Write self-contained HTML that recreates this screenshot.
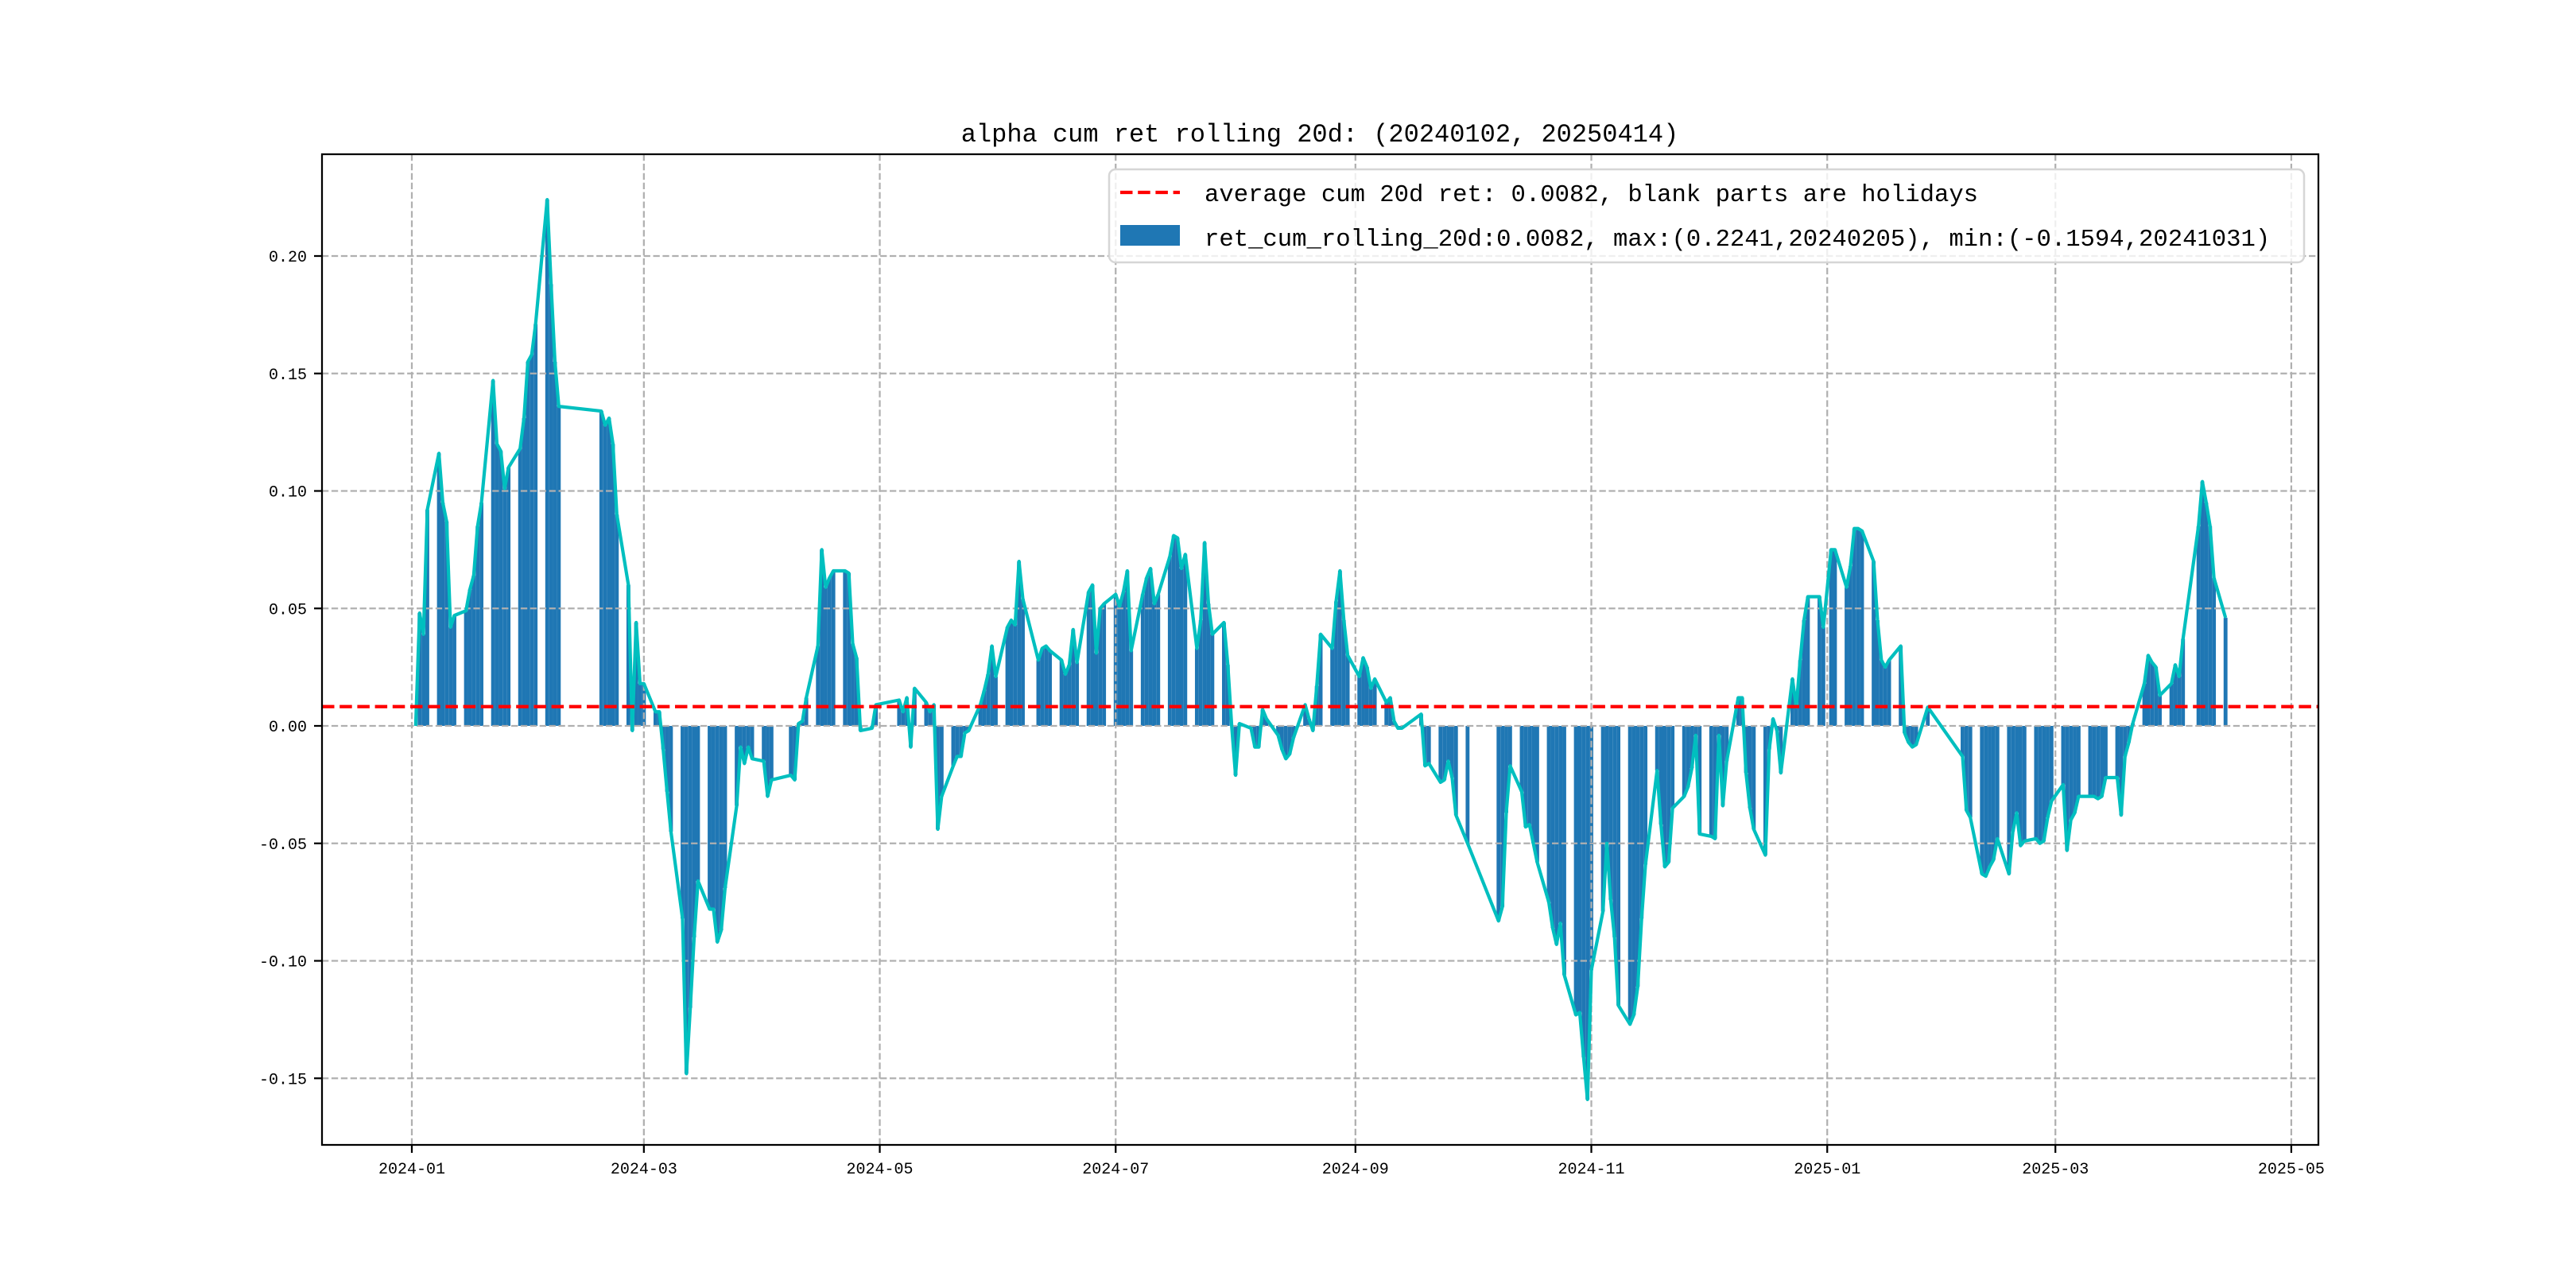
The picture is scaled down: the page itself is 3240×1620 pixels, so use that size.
<!DOCTYPE html>
<html><head><meta charset="utf-8">
<style>
html,body{margin:0;padding:0;background:#fff;}
svg{display:block;}
text{font-family:"Liberation Mono","Noto Sans CJK SC",monospace;fill:#000;}
</style></head>
<body>
<svg id="chart" width="3240" height="1620" viewBox="0 0 3240 1620" xmlns="http://www.w3.org/2000/svg">
<rect x="0" y="0" width="3240" height="1620" fill="#fff"/>
<g id="grid"></g>
<g id="bars"></g>
<g id="lineg"></g>
<g id="axes"></g>
<text x="1660" y="178" font-size="32" text-anchor="middle">alpha cum ret rolling 20d: (20240102, 20250414)</text>
<g>
<rect x="1395" y="213" width="1503" height="117" rx="8" fill="#fff" fill-opacity="0.8" stroke="#d6d6d6" stroke-width="2.5"/>
<line x1="1409" y1="242" x2="1484" y2="242" stroke="#ff0000" stroke-width="4.2" stroke-dasharray="15.5,6.7"/>
<text x="1515" y="253" font-size="30.6">average cum 20d ret: 0.0082, blank parts are holidays</text>
<rect x="1409" y="283" width="75" height="26" fill="#1f77b4"/>
<text x="1515" y="309" font-size="30.6">ret_cum_rolling_20d:0.0082, max:(0.2241,20240205), min:(-0.1594,20241031)</text>
</g>
</svg>
<script>
const dates = ["2024-01-02","2024-01-03","2024-01-04","2024-01-05","2024-01-08","2024-01-09","2024-01-10","2024-01-11","2024-01-12","2024-01-15","2024-01-16","2024-01-17","2024-01-18","2024-01-19","2024-01-22","2024-01-23","2024-01-24","2024-01-25","2024-01-26","2024-01-29","2024-01-30","2024-01-31","2024-02-01","2024-02-02","2024-02-05","2024-02-06","2024-02-07","2024-02-08","2024-02-19","2024-02-20","2024-02-21","2024-02-22","2024-02-23","2024-02-26","2024-02-27","2024-02-28","2024-02-29","2024-03-01","2024-03-04","2024-03-05","2024-03-06","2024-03-07","2024-03-08","2024-03-11","2024-03-12","2024-03-13","2024-03-14","2024-03-15","2024-03-18","2024-03-19","2024-03-20","2024-03-21","2024-03-22","2024-03-25","2024-03-26","2024-03-27","2024-03-28","2024-03-29","2024-04-01","2024-04-02","2024-04-03","2024-04-08","2024-04-09","2024-04-10","2024-04-11","2024-04-12","2024-04-15","2024-04-16","2024-04-17","2024-04-18","2024-04-19","2024-04-22","2024-04-23","2024-04-24","2024-04-25","2024-04-26","2024-04-29","2024-04-30","2024-05-06","2024-05-07","2024-05-08","2024-05-09","2024-05-10","2024-05-13","2024-05-14","2024-05-15","2024-05-16","2024-05-17","2024-05-20","2024-05-21","2024-05-22","2024-05-23","2024-05-24","2024-05-27","2024-05-28","2024-05-29","2024-05-30","2024-05-31","2024-06-03","2024-06-04","2024-06-05","2024-06-06","2024-06-07","2024-06-11","2024-06-12","2024-06-13","2024-06-14","2024-06-17","2024-06-18","2024-06-19","2024-06-20","2024-06-21","2024-06-24","2024-06-25","2024-06-26","2024-06-27","2024-06-28","2024-07-01","2024-07-02","2024-07-03","2024-07-04","2024-07-05","2024-07-08","2024-07-09","2024-07-10","2024-07-11","2024-07-12","2024-07-15","2024-07-16","2024-07-17","2024-07-18","2024-07-19","2024-07-22","2024-07-23","2024-07-24","2024-07-25","2024-07-26","2024-07-29","2024-07-30","2024-07-31","2024-08-01","2024-08-02","2024-08-05","2024-08-06","2024-08-07","2024-08-08","2024-08-09","2024-08-12","2024-08-13","2024-08-14","2024-08-15","2024-08-16","2024-08-19","2024-08-20","2024-08-21","2024-08-22","2024-08-23","2024-08-26","2024-08-27","2024-08-28","2024-08-29","2024-08-30","2024-09-02","2024-09-03","2024-09-04","2024-09-05","2024-09-06","2024-09-09","2024-09-10","2024-09-11","2024-09-12","2024-09-13","2024-09-18","2024-09-19","2024-09-20","2024-09-23","2024-09-24","2024-09-25","2024-09-26","2024-09-27","2024-09-30","2024-10-08","2024-10-09","2024-10-10","2024-10-11","2024-10-14","2024-10-15","2024-10-16","2024-10-17","2024-10-18","2024-10-21","2024-10-22","2024-10-23","2024-10-24","2024-10-25","2024-10-28","2024-10-29","2024-10-30","2024-10-31","2024-11-01","2024-11-04","2024-11-05","2024-11-06","2024-11-07","2024-11-08","2024-11-11","2024-11-12","2024-11-13","2024-11-14","2024-11-15","2024-11-18","2024-11-19","2024-11-20","2024-11-21","2024-11-22","2024-11-25","2024-11-26","2024-11-27","2024-11-28","2024-11-29","2024-12-02","2024-12-03","2024-12-04","2024-12-05","2024-12-06","2024-12-09","2024-12-10","2024-12-11","2024-12-12","2024-12-13","2024-12-16","2024-12-17","2024-12-18","2024-12-19","2024-12-20","2024-12-23","2024-12-24","2024-12-25","2024-12-26","2024-12-27","2024-12-30","2024-12-31","2025-01-02","2025-01-03","2025-01-06","2025-01-07","2025-01-08","2025-01-09","2025-01-10","2025-01-13","2025-01-14","2025-01-15","2025-01-16","2025-01-17","2025-01-20","2025-01-21","2025-01-22","2025-01-23","2025-01-24","2025-01-27","2025-02-05","2025-02-06","2025-02-07","2025-02-10","2025-02-11","2025-02-12","2025-02-13","2025-02-14","2025-02-17","2025-02-18","2025-02-19","2025-02-20","2025-02-21","2025-02-24","2025-02-25","2025-02-26","2025-02-27","2025-02-28","2025-03-03","2025-03-04","2025-03-05","2025-03-06","2025-03-07","2025-03-10","2025-03-11","2025-03-12","2025-03-13","2025-03-14","2025-03-17","2025-03-18","2025-03-19","2025-03-20","2025-03-21","2025-03-24","2025-03-25","2025-03-26","2025-03-27","2025-03-28","2025-03-31","2025-04-01","2025-04-02","2025-04-03","2025-04-07","2025-04-08","2025-04-09","2025-04-10","2025-04-11","2025-04-14"];
const values = [0.000,0.048,0.039,0.092,0.116,0.095,0.087,0.042,0.047,0.049,0.058,0.064,0.085,0.095,0.147,0.120,0.117,0.101,0.110,0.118,0.131,0.155,0.158,0.171,0.224,0.188,0.155,0.136,0.134,0.128,0.131,0.120,0.090,0.060,-0.002,0.044,0.018,0.018,0.006,0.006,-0.010,-0.028,-0.045,-0.082,-0.148,-0.120,-0.090,-0.066,-0.078,-0.078,-0.092,-0.087,-0.069,-0.034,-0.009,-0.016,-0.009,-0.014,-0.015,-0.030,-0.023,-0.021,-0.023,0.001,0.002,0.012,0.034,0.075,0.059,0.063,0.066,0.066,0.065,0.035,0.029,-0.002,-0.001,0.009,0.011,0.006,0.012,-0.009,0.016,0.010,0.006,0.009,-0.044,-0.030,-0.017,-0.013,-0.013,-0.003,-0.002,0.009,0.015,0.022,0.034,0.021,0.042,0.045,0.043,0.070,0.054,0.028,0.033,0.034,0.032,0.028,0.022,0.026,0.041,0.027,0.057,0.060,0.031,0.050,0.052,0.056,0.051,0.057,0.066,0.032,0.056,0.063,0.067,0.052,0.056,0.072,0.081,0.080,0.067,0.073,0.033,0.045,0.078,0.052,0.039,0.044,0.026,0.000,-0.021,0.001,-0.001,-0.009,-0.009,0.007,0.003,-0.004,-0.010,-0.014,-0.012,-0.005,0.009,0.003,-0.002,0.017,0.039,0.033,0.053,0.066,0.045,0.030,0.021,0.029,0.025,0.016,0.020,0.010,0.012,0.002,-0.001,-0.001,0.005,-0.017,-0.016,-0.024,-0.023,-0.015,-0.022,-0.038,-0.050,-0.083,-0.077,-0.037,-0.017,-0.028,-0.043,-0.042,-0.050,-0.058,-0.075,-0.086,-0.093,-0.084,-0.106,-0.123,-0.122,-0.141,-0.159,-0.104,-0.079,-0.050,-0.074,-0.090,-0.119,-0.127,-0.123,-0.111,-0.082,-0.059,-0.019,-0.042,-0.060,-0.058,-0.035,-0.030,-0.026,-0.018,-0.004,-0.046,-0.047,-0.048,-0.004,-0.034,-0.015,0.012,0.012,-0.020,-0.035,-0.044,-0.055,-0.010,0.003,-0.002,-0.020,0.020,0.008,0.028,0.045,0.055,0.055,0.042,0.075,0.075,0.059,0.068,0.084,0.084,0.083,0.070,0.045,0.028,0.025,0.028,0.034,-0.003,-0.007,-0.009,-0.008,0.008,-0.013,-0.036,-0.039,-0.063,-0.064,-0.060,-0.057,-0.048,-0.063,-0.045,-0.037,-0.051,-0.049,-0.048,-0.050,-0.049,-0.039,-0.032,-0.025,-0.053,-0.040,-0.037,-0.030,-0.030,-0.030,-0.031,-0.030,-0.022,-0.022,-0.038,-0.013,-0.007,0.001,0.018,0.030,0.027,0.025,0.013,0.018,0.026,0.021,0.037,0.085,0.104,0.095,0.085,0.063,0.046];
const averageValue = 0.0082;
const yTicks = [-0.15,-0.10,-0.05,0.00,0.05,0.10,0.15,0.20];
const yTickLabels = ["-0.15","-0.10","-0.05","0.00","0.05","0.10","0.15","0.20"];
const xTicks = ["2024-01-01","2024-03-01","2024-05-01","2024-07-01","2024-09-01","2024-11-01","2025-01-01","2025-03-01","2025-05-01"];
const xTickLabels = ["2024-01","2024-03","2024-05","2024-07","2024-09","2024-11","2025-01","2025-03","2025-05"];

const NS = "http://www.w3.org/2000/svg";
const L = 405, R = 2916, T = 194, B = 1440;
const origin = Date.UTC(2024,0,1);
function dayOf(s){const p=s.split("-");return (Date.UTC(+p[0],+p[1]-1,+p[2])-origin)/86400000;}
const pxPerDay = 4.864;
function xScale(s){return 518 + dayOf(s)*pxPerDay;}
function yScale(v){return 913 - v*2955;}
function mk(tag, attrs, parent){const e=document.createElementNS(NS,tag);for(const k in attrs)e.setAttribute(k,attrs[k]);parent.appendChild(e);return e;}

const grid = document.getElementById("grid");
const bars = document.getElementById("bars");
const lineg = document.getElementById("lineg");
const axes = document.getElementById("axes");

dates.forEach((d,i)=>{
  const v = values[i];
  const x = xScale(d) - pxPerDay/2;
  const y0 = yScale(0), y1 = yScale(v);
  const r = mk("rect",{x:x.toFixed(2),y:Math.min(y0,y1).toFixed(2),width:pxPerDay.toFixed(2),height:Math.abs(y1-y0).toFixed(2),fill:"#1f77b4"},bars);
  
  
});

yTicks.forEach((v,i)=>{
  const y = yScale(v);
  const g = mk("line",{x1:L,x2:R,y1:y,y2:y,stroke:"#b0b0b0","stroke-width":2.25,"stroke-dasharray":"8.3,3.6"},lineg);
  
  
});
xTicks.forEach((d,i)=>{
  const x = xScale(d);
  const g = mk("line",{x1:x,x2:x,y1:T,y2:B,stroke:"#b0b0b0","stroke-width":2.25,"stroke-dasharray":"8.3,3.6"},lineg);
  
  
});

const pts = dates.map((d,i)=>xScale(d).toFixed(2)+","+yScale(values[i]).toFixed(2)).join(" ");
const pl = mk("polyline",{points:pts,fill:"none",stroke:"#00bfbf","stroke-width":4.2,"stroke-linejoin":"round"},lineg);



const ay = yScale(averageValue);
const al = mk("line",{x1:L,x2:R,y1:ay,y2:ay,stroke:"#ff0000","stroke-width":4.2,"stroke-dasharray":"15.5,6.7"},lineg);



const fr = mk("rect",{x:L,y:T,width:R-L,height:B-T,fill:"none",stroke:"#000","stroke-width":2.25},axes);



yTicks.forEach((v,i)=>{
  const y = yScale(v);
  const t = mk("line",{x1:L-10,x2:L,y1:y,y2:y,stroke:"#000","stroke-width":2.25},axes);
  
  
  const tx = mk("text",{x:L-19,y:y+7,"font-size":20,"text-anchor":"end"},axes);
  tx.textContent = yTickLabels[i];
  
  
});
xTicks.forEach((d,i)=>{
  const x = xScale(d);
  const t = mk("line",{x1:x,x2:x,y1:B,y2:B+10,stroke:"#000","stroke-width":2.25},axes);
  
  
  const tx = mk("text",{x:x,y:B+36,"font-size":20,"text-anchor":"middle"},axes);
  tx.textContent = xTickLabels[i];
  
  
});
</script>
</body></html>
